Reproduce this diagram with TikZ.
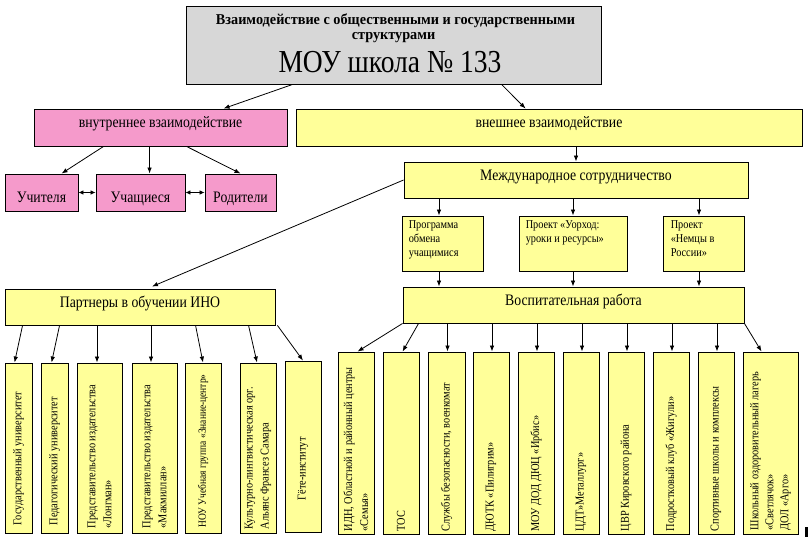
\documentclass[tikz,border=0pt]{standalone}
\usepackage{fontspec}
\setmainfont[FakeStretch=0.86]{Liberation Serif}
\newfontfamily\wideserif[FakeStretch=0.95]{Liberation Serif}
\usetikzlibrary{arrows.meta,calc}
\definecolor{yel}{HTML}{FFFF99}
\definecolor{pnk}{HTML}{F59ACB}
\definecolor{gry}{HTML}{D7D7D7}
\begin{document}
\begin{tikzpicture}[x=1pt,y=-1pt,
  box/.style={draw=black, line width=0.9pt, inner sep=0pt, anchor=center},
  ybox/.style={box, fill=yel},
  pbox/.style={box, fill=pnk},
  lbl/.style={font=\fontsize{16}{18}\selectfont, text height=11pt, text depth=10pt},
  arr/.style={-{Latex[length=6pt,width=4.5pt]}, line width=0.8pt},
  darr/.style={{Latex[length=5pt,width=4.5pt]}-{Latex[length=5pt,width=4.5pt]}, line width=0.8pt},
  vtext/.style={rotate=90, anchor=west, align=left, inner sep=0pt, font=\fontsize{12}{16}\selectfont},
  stext/.style={anchor=north west, align=left, inner sep=0pt, font=\fontsize{12}{14}\selectfont}]
\useasboundingbox (0,0) rectangle (808,537);
\fill[white] (0,0) rectangle (808,537);

% top
\node[box, fill=gry, minimum width=415pt, minimum height=78pt] (top) at (393.5,45) {};
\node[anchor=base, inner sep=0pt, font=\wideserif\bfseries\fontsize{15}{16}\selectfont] (t1) at (395.5,25) {Взаимодействие с общественными и государственными};
\node[anchor=base, inner sep=0pt, font=\wideserif\bfseries\fontsize{15}{16}\selectfont] (t2) at (393.5,40) {структурами};
\node[anchor=base, inner sep=0pt, font=\fontsize{32}{34}\selectfont] (t3) at (390,72.5) {МОУ школа № 133};

% second level
\node[pbox, lbl, minimum width=253pt, minimum height=37pt] (inner) at (160.5,127.5) {внутреннее взаимодействие};
\node[ybox, lbl, minimum width=506pt, minimum height=37pt] (outer) at (549,127.5) {внешнее взаимодействие};

% pink children
\node[pbox, lbl, minimum width=73pt, minimum height=37pt, text height=24pt, text depth=3pt] (uch) at (41.5,192.5) {Учителя};
\node[pbox, lbl, minimum width=89pt, minimum height=37pt, text height=24pt, text depth=3pt] (uchs) at (140.5,192.5) {Учащиеся};
\node[pbox, lbl, minimum width=71pt, minimum height=37pt, text height=24pt, text depth=3pt] (rod) at (240.5,192.5) {Родители};

% international
\node[ybox, lbl, minimum width=344pt, minimum height=36pt] (intl) at (576,180) {Международное сотрудничество};
\node[ybox, minimum width=81pt, minimum height=55pt] (prog) at (442.5,243.5) {};
\node[ybox, minimum width=108pt, minimum height=55pt] (ur) at (573,243.5) {};
\node[ybox, minimum width=81pt, minimum height=55pt] (nem) at (703.5,243.5) {};
\node[stext] (progt) at ([xshift=7pt,yshift=-5pt]prog.north west) {Программа\\обмена\\учащимися};
\node[stext] (urt) at ([xshift=7pt,yshift=-5pt]ur.north west) {Проект «Уорход:\\уроки и ресурсы»};
\node[stext] (nemt) at ([xshift=8pt,yshift=-5pt]nem.north west) {Проект\\«Немцы в\\России»};

% vosp and partners
\node[ybox, lbl, minimum width=341pt, minimum height=36pt] (vosp) at (573.5,305) {Воспитательная работа};
\node[ybox, lbl, minimum width=270pt, minimum height=36pt] (part) at (140,307) {Партнеры в обучении ИНО};

% partner boxes
\node[ybox, minimum width=27pt, minimum height=170pt] (p1) at (18.5,448) {};
\node[ybox, minimum width=27pt, minimum height=170pt] (p2) at (54.5,448) {};
\node[ybox, minimum width=45pt, minimum height=170pt] (p3) at (99.5,448) {};
\node[ybox, minimum width=45pt, minimum height=170pt] (p4) at (154.5,448) {};
\node[ybox, minimum width=36pt, minimum height=170pt] (p5) at (203,448) {};
\node[ybox, minimum width=36pt, minimum height=170pt] (p6) at (258,448) {};
\node[ybox, minimum width=36pt, minimum height=171pt] (p7) at (303,446.5) {};
\node[vtext] (p1t) at ([yshift=8pt]p1.south) {Государственный университет};
\node[vtext] (p2t) at ([yshift=8pt]p2.south) {Педагогический университет};
\node[vtext] (p3t) at ([yshift=5pt]p3.south) {Представительство издательства\\«Лонгман»};
\node[vtext] (p4t) at ([yshift=5pt]p4.south) {Представительство издательства\\«Макмиллан»};
\node[vtext, font=\fontsize{11}{15}\selectfont] (p5t) at ([yshift=6pt]p5.south) {НОУ Учебная группа «Знание-центр»};
\node[vtext] (p6t) at ([yshift=4pt]p6.south) {Культурно-лингвистическая орг.\\Альянс Франсез Самара};
\node[vtext] (p7t) at ([yshift=32pt]p7.south) {Гёте-институт};

% vosp boxes
\node[ybox, minimum width=36pt, minimum height=182pt] (v1) at (356,443) {};
\node[ybox, minimum width=36pt, minimum height=182pt] (v2) at (401,443) {};
\node[ybox, minimum width=37pt, minimum height=182pt] (v3) at (446.5,443) {};
\node[ybox, minimum width=36pt, minimum height=182pt] (v4) at (491,443) {};
\node[ybox, minimum width=36pt, minimum height=182pt] (v5) at (536,443) {};
\node[ybox, minimum width=36pt, minimum height=182pt] (v6) at (581,443) {};
\node[ybox, minimum width=36pt, minimum height=182pt] (v7) at (626,443) {};
\node[ybox, minimum width=36pt, minimum height=182pt] (v8) at (671,443) {};
\node[ybox, minimum width=36pt, minimum height=182pt] (v9) at (716,443) {};
\node[ybox, minimum width=55pt, minimum height=182pt] (v10) at (770.5,443) {};
\node[vtext] (v1t) at ([yshift=3pt]v1.south) {ИДН, Областной и районный центры\\«Семья»};
\node[vtext] (v2t) at ([yshift=3pt]v2.south) {ТОС};
\node[vtext] (v3t) at ([yshift=3pt]v3.south) {Службы безопасности, военкомат};
\node[vtext] (v4t) at ([yshift=3pt]v4.south) {ДЮТК «Пилигрим»};
\node[vtext] (v5t) at ([yshift=3pt]v5.south) {МОУ ДОД ДЮЦ «Ирбис»};
\node[vtext] (v6t) at ([yshift=3pt]v6.south) {ЦДТ»Металлург»};
\node[vtext] (v7t) at ([yshift=3pt]v7.south) {ЦВР Кировского района};
\node[vtext] (v8t) at ([yshift=3pt]v8.south) {Подростковый клуб «Жигули»};
\node[vtext] (v9t) at ([yshift=3pt]v9.south) {Спортивные школы и комплексы};
\node[vtext, font=\fontsize{12}{15}\selectfont] (v10t) at ([yshift=4pt]v10.south) {Школьный оздоровительный лагерь\\«Светлячок»\\ДОЛ «Арго»};

% stray mark
\fill[black] (805,527) rectangle (808,537);

% connectors
\draw[arr] ([xshift=107pt]top.south west) -- ([xshift=190pt]inner.north west);
\draw[arr] ([xshift=316pt]top.south west) -- ([xshift=230pt]outer.north west);
\draw[arr] ([xshift=70pt]inner.south west) -- ([xshift=57pt]uch.north west);
\draw[arr] ([xshift=116pt]inner.south west) -- ([xshift=54pt]uchs.north west);
\draw[arr] ([xshift=153pt]inner.south west) -- (rod.north);
\draw[darr] (uch.east) -- (uchs.west);
\draw[darr] (uchs.east) -- (rod.west);
\draw[arr] (outer.south -| intl.north) -- (intl.north);
\draw[arr] ([xshift=-3.5pt]prog.north |- intl.south) -- ([xshift=-3.5pt]prog.north);
\draw[arr] (ur.north |- intl.south) -- (ur.north);
\draw[arr] ([xshift=-4.5pt]nem.north |- intl.south) -- ([xshift=-4.5pt]nem.north);
\draw[arr] ([xshift=-3.5pt]prog.south) -- ([xshift=-3.5pt]prog.south |- vosp.north);
\draw[arr] (ur.south) -- (ur.south |- vosp.north);
\draw[arr] ([xshift=-4.5pt]nem.south) -- ([xshift=-4.5pt]nem.south |- vosp.north);
\draw[arr] (intl.west) -- ([xshift=12pt,yshift=2pt]part.north);
% partners arrows
\draw[arr] ([xshift=18pt]part.south west) -- ([xshift=10pt]p1.north west);
\draw[arr] ([xshift=55pt]part.south west) -- ([xshift=11pt]p2.north west);
\draw[arr] ([xshift=-2.5pt]p3.north |- part.south) -- ([xshift=-2.5pt]p3.north);
\draw[arr] ([xshift=-3.5pt]p4.north |- part.south) -- ([xshift=-3.5pt]p4.north);
\draw[arr] ([xshift=191pt]part.south west) -- (p5.north);
\draw[arr] ([xshift=244pt]part.south west) -- ([xshift=-1pt]p6.north);
\draw[arr] ([xshift=2pt]part.south east) -- (p7.north);
% vosp arrows
\draw[arr] (vosp.south west) -- ([xshift=20pt]v1.north west);
\draw[arr] ([xshift=16pt]vosp.south west) -- ([xshift=20pt]v2.north west);
\foreach \v in {v3,v4,v5,v6,v7,v8,v9}
  \draw[arr] ([xshift=1pt]\v.north |- vosp.south) -- ([xshift=1pt]\v.north);
\draw[arr] (vosp.south east) -- ([xshift=19pt]v10.north west);
\end{tikzpicture}
\end{document}
